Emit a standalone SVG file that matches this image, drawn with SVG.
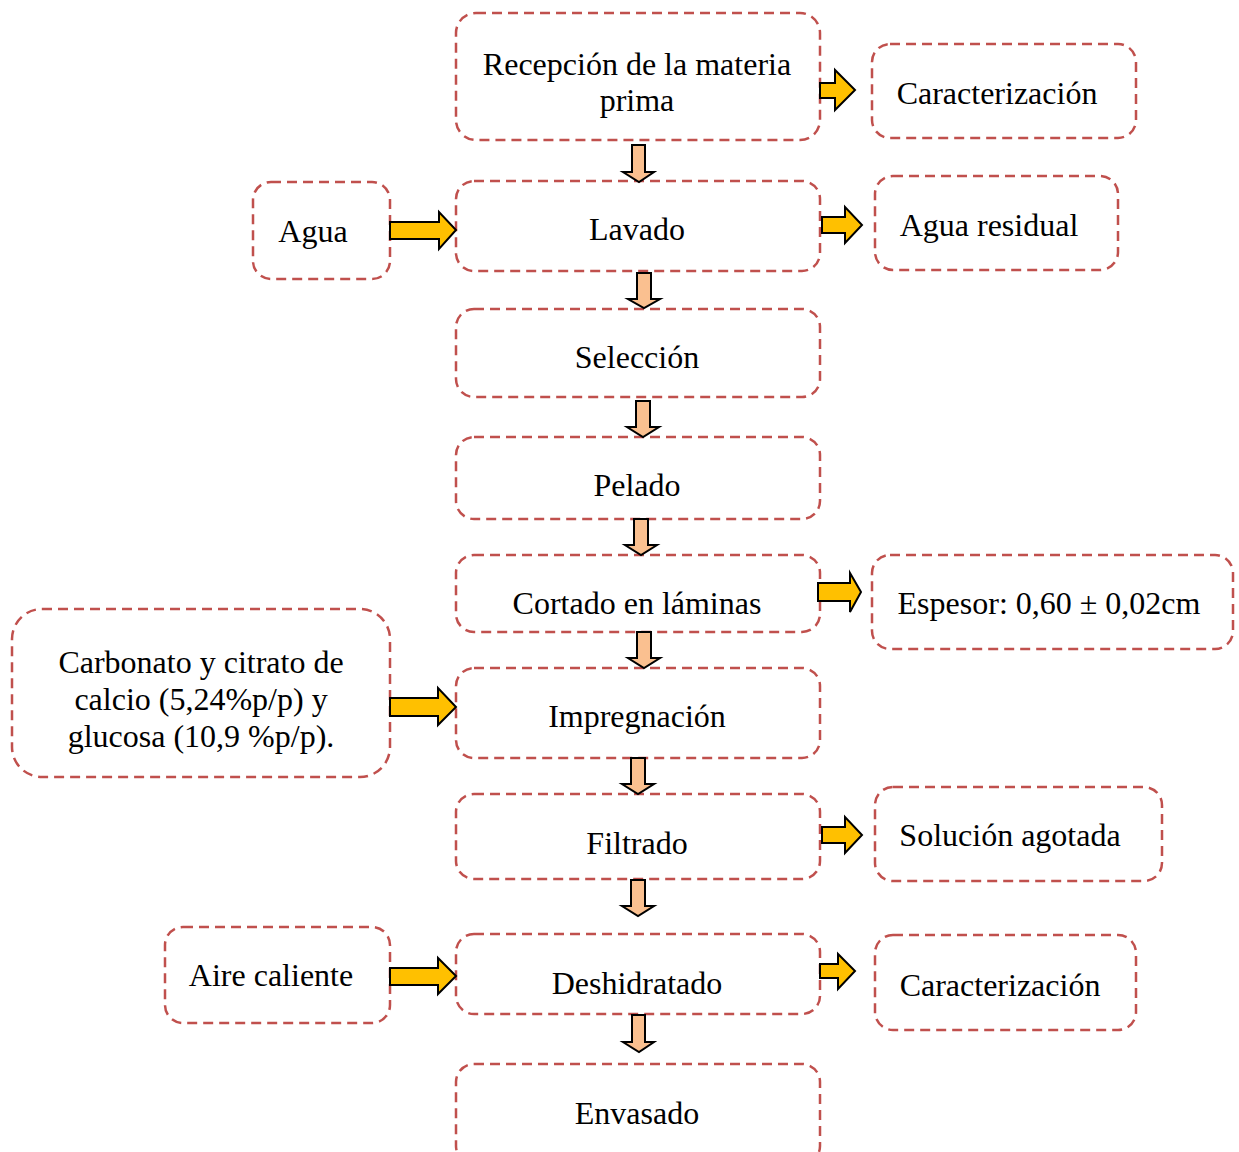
<svg xmlns="http://www.w3.org/2000/svg" width="1239" height="1152" viewBox="0 0 1239 1152">
<style>
.box{fill:#fff;stroke:#C0504D;stroke-width:2.5;stroke-dasharray:10,6}
.t{font-family:"Liberation Serif","Times New Roman",serif;font-size:32px;fill:#000;text-anchor:middle}
.down{fill:#FAC090;stroke:#000;stroke-width:2}
.right{fill:#FFC000;stroke:#000;stroke-width:2}
</style>
<rect width="1239" height="1152" fill="#fff"/>
<g id="n-recepcion"><rect class="box" x="456" y="13" width="364" height="127" rx="20"/><text class="t" x="637" y="75">Recepción de la materia</text><text class="t" x="637" y="111">prima</text></g>
<g id="n-caract1"><rect class="box" x="872" y="44" width="264" height="94" rx="18"/><text class="t" x="997" y="104">Caracterización</text></g>
<g id="n-agua"><rect class="box" x="253" y="182" width="137" height="97" rx="18"/><text class="t" x="313" y="242">Agua</text></g>
<g id="n-lavado"><rect class="box" x="456" y="181" width="364" height="90" rx="18"/><text class="t" x="637" y="240">Lavado</text></g>
<g id="n-aguares"><rect class="box" x="875" y="176" width="243" height="94" rx="18"/><text class="t" x="989" y="236">Agua residual</text></g>
<g id="n-seleccion"><rect class="box" x="456" y="309" width="364" height="88" rx="18"/><text class="t" x="637" y="368">Selección</text></g>
<g id="n-pelado"><rect class="box" x="456" y="437" width="364" height="82" rx="18"/><text class="t" x="637" y="496">Pelado</text></g>
<g id="n-cortado"><rect class="box" x="456" y="555" width="364" height="77" rx="18"/><text class="t" x="637" y="614">Cortado en láminas</text></g>
<g id="n-espesor"><rect class="box" x="872" y="555" width="361" height="94" rx="18"/><text class="t" x="1049" y="614">Espesor: 0,60 ± 0,02cm</text></g>
<g id="n-carbonato"><rect class="box" x="12" y="609" width="378" height="168" rx="30"/><text class="t" x="201" y="673">Carbonato y citrato de</text><text class="t" x="201" y="710">calcio (5,24%p/p) y</text><text class="t" x="201" y="747">glucosa (10,9 %p/p).</text></g>
<g id="n-impregnacion"><rect class="box" x="456" y="668" width="364" height="90" rx="18"/><text class="t" x="637" y="727">Impregnación</text></g>
<g id="n-filtrado"><rect class="box" x="456" y="794" width="364" height="85" rx="18"/><text class="t" x="637" y="854">Filtrado</text></g>
<g id="n-solucion"><rect class="box" x="875" y="787" width="287" height="94" rx="18"/><text class="t" x="1010" y="846">Solución agotada</text></g>
<g id="n-aire"><rect class="box" x="165" y="927" width="225" height="96" rx="18"/><text class="t" x="271" y="986">Aire caliente</text></g>
<g id="n-deshidratado"><rect class="box" x="456" y="934" width="364" height="80" rx="18"/><text class="t" x="637" y="994">Deshidratado</text></g>
<g id="n-caract2"><rect class="box" x="875" y="935" width="261" height="95" rx="18"/><text class="t" x="1000" y="996">Caracterización</text></g>
<g id="n-envasado"><rect class="box" x="456" y="1064" width="364" height="100" rx="18"/><text class="t" x="637" y="1124">Envasado</text></g>
<g id="connectors">
<polygon class="down" points="632,145 645,145 645,172 654,172 639,182 623,172 632,172"/>
<polygon class="down" points="637,273 651,273 651,299 660,299 644,308 628,299 637,299"/>
<polygon class="down" points="636,401 650,401 650,427 659,427 643,437 627,427 636,427"/>
<polygon class="down" points="634,519 648,519 648,545 657,545 641,555 625,545 634,545"/>
<polygon class="down" points="637,632 651,632 651,658 660,658 644,668 628,658 637,658"/>
<polygon class="down" points="631,758 645,758 645,784 654,784 638,794 622,784 631,784"/>
<polygon class="down" points="631,880 645,880 645,906 654,906 638,916 622,906 631,906"/>
<polygon class="down" points="632,1015 645,1015 645,1042 654,1042 639,1052 623,1042 632,1042"/>
<polygon class="right" points="820,83 835,83 835,70 855,90 835,110 835,98 820,98"/>
<polygon class="right" points="390,222 439,222 439,212 456,230 439,249 439,239 390,239"/>
<polygon class="right" points="822,217 845,217 845,207 862,225 845,243 845,233 822,233"/>
<polygon class="right" points="818,583 850,583 850,573 861,592 850,612 850,601 818,601"/>
<polygon class="right" points="390,698 438,698 438,688 456,707 438,725 438,716 390,716"/>
<polygon class="right" points="822,827 845,827 845,817 862,835 845,853 845,843 822,843"/>
<polygon class="right" points="390,968 438,968 438,958 456,976 438,994 438,985 390,985"/>
<polygon class="right" points="820,964 838,964 838,954 855,971 838,989 838,978 820,978"/>
</g>
</svg>
